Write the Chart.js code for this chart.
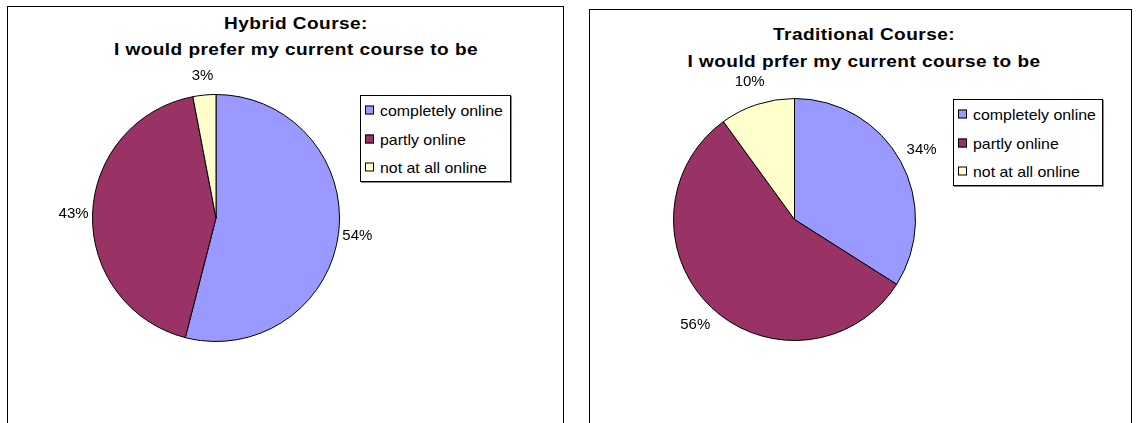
<!DOCTYPE html>
<html>
<head>
<meta charset="utf-8">
<script src="https://cdn.jsdelivr.net/npm/chart.js@4/dist/chart.umd.min.js"></script>
<style>
  html, body { margin:0; padding:0; background:#fff; overflow:hidden; width:1139px; height:423px; }
  body { position:relative; font-family:"Liberation Sans", Arial, sans-serif; color:#000; }
  .panel { position:absolute; border:1px solid #000; box-sizing:border-box; background:#fff; }
  .title { position:absolute; font-weight:bold; font-size:17px; letter-spacing:0.4px; white-space:nowrap; transform:translate(-50%,-50%) scaleX(1.12); line-height:1; }
  .pie { position:absolute; }
  .legend { position:absolute; border:1px solid #000; box-sizing:border-box; background:#fff; box-shadow:1px 1px 0 #888; }
  .legend .item { position:absolute; left:0; white-space:nowrap; line-height:1; transform:translateY(-50%); display:flex; align-items:center; }
  .legend .txt { display:inline-block; font-size:15px; transform:scaleX(1.06); transform-origin:left center; }
  .legend .sw { display:inline-block; width:7px; height:7px; border:1px solid #000; margin-left:4px; margin-right:6px; }
</style>
</head>
<body>
<div class="panel" style="left:7px;top:6px;width:557px;height:440px;"></div>
<div class="panel" style="left:589px;top:9px;width:543px;height:440px;"></div>

<div class="title" style="left:296px;top:23px;" id="t1a"></div>
<div class="title" style="left:296px;top:49px;" id="t1b"></div>
<div class="title" style="left:864px;top:34px;" id="t2a"></div>
<div class="title" style="left:864px;top:61px;" id="t2b"></div>

<div class="pie"><canvas id="c1"></canvas></div>
<div class="pie"><canvas id="c2"></canvas></div>

<div class="legend" id="lg1" style="left:360px;top:95px;width:151px;height:87px;"></div>
<div class="legend" id="lg2" style="left:953px;top:99px;width:150px;height:87px;"></div>

<script>
// ---- data ----
const categories = ["completely online", "partly online", "not at all online"];
const hybridValues = [54, 43, 3];
const traditionalValues = [34, 56, 10];
const hybridTitle = ["Hybrid Course:", "I would prefer my current course to be"];
const traditionalTitle = ["Traditional Course:", "I would prfer my current course to be"];
const sliceColors = ["#9999FF", "#993366", "#FFFFCC"];

document.getElementById('t1a').textContent = hybridTitle[0];
document.getElementById('t1b').textContent = hybridTitle[1];
document.getElementById('t2a').textContent = traditionalTitle[0];
document.getElementById('t2b').textContent = traditionalTitle[1];

function buildLegend(id) {
  const el = document.getElementById(id);
  const rows = [14, 43, 71];
  categories.forEach((c, i) => {
    const d = document.createElement('div');
    d.className = 'item';
    d.style.top = rows[i] + 'px';
    const sw = document.createElement('span');
    sw.className = 'sw';
    sw.style.background = sliceColors[i];
    d.appendChild(sw);
    const t = document.createElement('span');
    t.className = 'txt';
    t.textContent = c;
    d.appendChild(t);
    el.appendChild(d);
  });
}
buildLegend('lg1');
buildLegend('lg2');

const outsideLabels = {
  id: 'outsideLabels',
  afterDatasetsDraw(chart, args, opts) {
    const ctx = chart.ctx;
    const meta = chart.getDatasetMeta(0);
    const data = chart.data.datasets[0].data;
    const total = data.reduce((a, b) => a + b, 0);
    ctx.save();
    ctx.font = '15px "Liberation Sans", Arial, sans-serif';
    ctx.fillStyle = '#000';
    ctx.textAlign = 'center';
    ctx.textBaseline = 'middle';
    meta.data.forEach((arc, i) => {
      const p = arc.getProps(['x', 'y', 'startAngle', 'endAngle', 'outerRadius'], true);
      const mid = (p.startAngle + p.endAngle) / 2;
      const d = p.outerRadius + opts.offset;
      const x = p.x + Math.cos(mid) * d;
      const y = p.y + Math.sin(mid) * d;
      ctx.fillText(Math.round(data[i] / total * 100) + '%', x, y);
    });
    ctx.restore();
  }
};

function makePie(id, values, offset, pad) {
  return new Chart(document.getElementById(id), {
    type: 'pie',
    data: {
      labels: categories,
      datasets: [{
        data: values,
        backgroundColor: sliceColors,
        borderColor: '#000',
        borderWidth: 1
      }]
    },
    options: {
      responsive: false,
      devicePixelRatio: 1,
      animation: false,
      layout: { padding: pad },
      plugins: {
        legend: { display: false },
        title: { display: false },
        tooltip: { enabled: false },
        outsideLabels: { offset: offset }
      }
    },
    plugins: [outsideLabels]
  });
}

const specs = [
  {id:'c1', values: hybridValues, cx:215.5, cy:218, r:124, offset:19},
  {id:'c2', values: traditionalValues, cx:794.5, cy:219.5, r:121.5, offset:24}
];
specs.forEach(s => {
  const cv = document.getElementById(s.id);
  const wrap = cv.parentNode;
  const extra = 60;
  const size = Math.round(2 * s.r + 2 * extra);
  wrap.style.left = (s.cx - size / 2) + 'px';
  wrap.style.top = (s.cy - size / 2) + 'px';
  wrap.style.width = size + 'px';
  wrap.style.height = size + 'px';
  wrap.style.zIndex = 1;
  cv.width = size; cv.height = size;
  makePie(s.id, s.values, s.offset, extra);
});
</script>
</body>
</html>
